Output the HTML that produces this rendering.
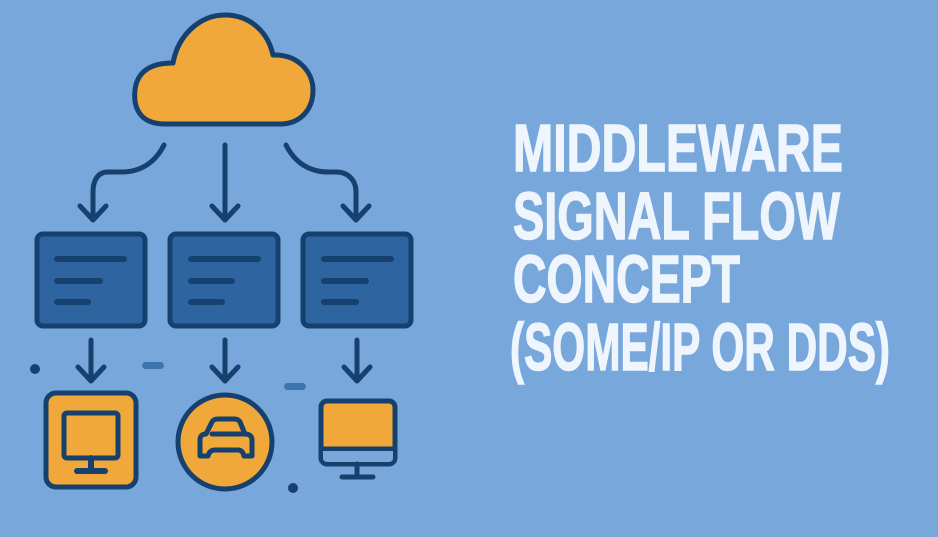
<!DOCTYPE html>
<html><head><meta charset="utf-8"><style>
html,body{margin:0;padding:0;background:#78a7dc;}
svg{display:block}
</style></head><body>
<svg width="938" height="537" viewBox="0 0 938 537" xmlns="http://www.w3.org/2000/svg">
<rect width="938" height="537" fill="#78a7dc"/>
<g stroke="#16406e" stroke-width="5" stroke-linecap="round" stroke-linejoin="round">
<path d="M165 124 C140 124 133 108 135 90 C137 72 150 63 173 63 C178 35 200 15 225 15 C250 15 268 32 273 55 C298 54 313 72 313 90 C313 110 300 124 280 124 Z" fill="#f0a83a"/>
<path d="M164 145 C155 163 140 172 122 172 L108 172 C98 172 93 180 93 192 L93 218" fill="none"/>
<path d="M80 206 L93 220 L106 206" fill="none"/>
<path d="M225 145 L225 218" fill="none"/>
<path d="M212 206 L225 220 L238 206" fill="none"/>
<path d="M286 145 C295 163 310 172 328 172 L336 172 C348 172 356 180 356 192 L356 218" fill="none"/>
<path d="M343 206 L356 220 L369 206" fill="none"/>
<rect x="37" y="234" width="108" height="92" rx="6" fill="#2e64a0"/>
<rect x="170" y="234" width="108" height="92" rx="6" fill="#2e64a0"/>
<rect x="303" y="234" width="108" height="92" rx="6" fill="#2e64a0"/>
<g stroke-width="6">
<path d="M57 259 L124 259 M57 281 L100 281 M57 302 L88 302"/>
<path d="M191 259 L258 259 M191 281 L232 281 M191 302 L222 302"/>
<path d="M324 259 L391 259 M324 281 L366 281 M324 302 L356 302"/>
</g>
<path d="M91 340 L91 380 M78 367 L91 381 L104 367" fill="none"/>
<path d="M225 340 L225 380 M212 367 L225 381 L238 367" fill="none"/>
<path d="M357 340 L357 380 M344 367 L357 381 L370 367" fill="none"/>
<rect x="46" y="393" width="90" height="94" rx="10" fill="#f0a83a"/>
<rect x="64" y="413" width="54" height="45" rx="3" fill="#f0a83a"/>
<path d="M91 458 L91 470 M77 471 L105 471" stroke-width="6"/>
<circle cx="225" cy="442" r="47" fill="#f0a83a"/>
<path d="M200 456 L200 440 C200 436 202 434 206 434 L212 422 C213 420 215 419 218 419 L234 419 C237 419 239 420 240 422 L245 434 C249 434 252 436 252 440 L252 456 L244 456 C243 452 241 450 238 450 L215 450 C211 450 209 452 208 456 Z" fill="#f0a83a"/>
<path d="M212 434 L245 434"/>
<rect x="321" y="401" width="74" height="63" rx="6" fill="#f0a83a"/>
<path d="M321 449 L395 449"/>
<path d="M323 451 L393 451 L393 458 C393 461 391 462 388 462 L328 462 C325 462 323 461 323 458 Z" fill="#78a7dc" stroke="none"/>
<path d="M357 464 L357 476 M342 477 L373 477" stroke-width="5"/>
</g>
<circle cx="35" cy="369" r="5" fill="#16406e"/>
<circle cx="293" cy="488" r="5" fill="#16406e"/>
<rect x="142" y="362" width="22" height="7" rx="3.5" fill="#3f73b0"/>
<rect x="284" y="383" width="22" height="7" rx="3.5" fill="#3f73b0"/>
<g fill="#eef5fd" stroke="#eef5fd" stroke-width="1.5" font-family="'Liberation Sans Narrow','Liberation Sans',sans-serif" font-weight="bold" font-size="67">
<text x="513" y="171" textLength="330" lengthAdjust="spacingAndGlyphs">MIDDLEWARE</text>
<text x="513" y="239" textLength="327" lengthAdjust="spacingAndGlyphs">SIGNAL FLOW</text>
<text x="513" y="302" textLength="227" lengthAdjust="spacingAndGlyphs">CONCEPT</text>
<text x="510" y="370" textLength="380" lengthAdjust="spacingAndGlyphs">(SOME/IP OR DDS)</text>
</g>
</svg>
</body></html>
